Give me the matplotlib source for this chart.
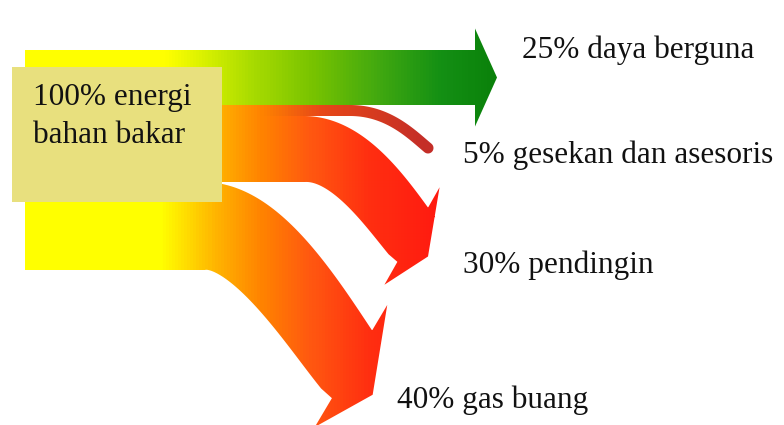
import numpy as np
import matplotlib
matplotlib.use("Agg")
import matplotlib.pyplot as plt
from matplotlib.patches import Polygon, Rectangle
from matplotlib.colors import LinearSegmentedColormap

# ---------------- data ----------------
source_lines = ["100% energi", "bahan bakar"]
flow_values = [25, 5, 30, 40]
flow_names = ["daya berguna", "gesekan dan asesoris", "pendingin", "gas buang"]

# ---------------- layout / style ----------------
W, H = 784, 425
x0 = 25                # left edge of source band
band_top = 50          # top of source band (px)
band_total = 220       # thickness of 100% (px)

# per-flow geometry: split x, arrow base, direction (deg), bezier handles, taper,
# head half-width, head length, barb-axis angle (deg), colormap key
flow_geom = [
    dict(xs=400, E=(475, None), ang=0, k1=25, k2=25, taper=1.0,
         hh=49, hl=22, barb=90, cmap="green"),
    dict(xs=350, E=(428, 148), ang=40, k1=38, k2=22, taper=1.0,
         hh=None, hl=0, barb=None, cmap="dark"),
    dict(xs=305, E=(412, 236), ang=52, k1=45, k2=40, taper=0.9,
         hh=56, hl=26, barb=119.5, cmap="red"),
    dict(xs=205, E=(351, 366), ang=53, k1=55, k2=55, taper=0.85,
         hh=71, hl=36, barb=120.7, cmap="red"),
]
label_pos = [(522, 58), (463, 163), (463, 273), (397, 408)]
src_text_pos = [(33, 105), (33, 143)]
box = (12, 67, 210, 135)
font = "Liberation Serif"
fs = 22.5


def cmap_from(stops):
    pts = [(0.0, stops[0][1])] + [(x / W, c) for x, c in stops] + [(1.0, stops[-1][1])]
    return LinearSegmentedColormap.from_list("c", pts)


cmaps = {
    "green": cmap_from([(165, "#FFFF00"), (200, "#DCF200"), (250, "#AADC00"),
                        (310, "#7AC400"), (380, "#40A810"), (440, "#149014"),
                        (500, "#0A800A")]),
    "red": cmap_from([(160, "#FFFF00"), (215, "#FFB400"), (260, "#FF8400"),
                      (310, "#FF5810"), (370, "#FF2E10"), (440, "#FF1A10")]),
    "dark": cmap_from([(160, "#FFFF00"), (215, "#FFB400"), (260, "#FF8400"),
                       (320, "#E84818"), (425, "#C42E28")]),
}


def ribbon(yc, w, g):
    d_end = np.array([np.cos(np.radians(g["ang"])), np.sin(np.radians(g["ang"]))])
    E = np.array([g["E"][0], yc if g["E"][1] is None else g["E"][1]], float)
    # straight part
    xh = np.linspace(x0, g["xs"], 40)
    P = [np.column_stack([xh, np.full_like(xh, yc)])]
    T = [np.tile([1.0, 0.0], (len(xh), 1))]
    Wd = [np.full(len(xh), w / 2)]
    # bezier part
    p0 = np.array([g["xs"], yc], float)
    p1 = p0 + np.array([g["k1"], 0.0])
    p2 = E - g["k2"] * d_end
    p3 = E
    t = np.linspace(0, 1, 80)[1:, None]
    b = ((1 - t) ** 3) * p0 + 3 * ((1 - t) ** 2) * t * p1 + 3 * (1 - t) * t ** 2 * p2 + t ** 3 * p3
    db = 3 * ((1 - t) ** 2) * (p1 - p0) + 6 * (1 - t) * t * (p2 - p1) + 3 * t ** 2 * (p3 - p2)
    db = db / np.linalg.norm(db, axis=1, keepdims=True)
    P.append(b)
    T.append(db)
    Wd.append(w / 2 * (1 + (g["taper"] - 1) * t[:, 0]))
    P = np.vstack(P); T = np.vstack(T); Wd = np.concatenate(Wd)
    N = np.column_stack([-T[:, 1], T[:, 0]])
    upper = P - N * Wd[:, None]
    lower = P + N * Wd[:, None]
    if g["hh"] is None:
        a0 = np.arctan2(-N[-1, 1], -N[-1, 0])
        ang = np.linspace(a0, a0 + np.pi, 15)
        cap = E + Wd[-1] * np.column_stack([np.cos(ang), np.sin(ang)])
        if np.dot(cap[7] - E, d_end) < 0:
            ang = np.linspace(a0, a0 - np.pi, 15)
            cap = E + Wd[-1] * np.column_stack([np.cos(ang), np.sin(ang)])
        head = cap
    else:
        bv = np.array([np.cos(np.radians(g["barb"])), np.sin(np.radians(g["barb"]))])
        head = np.array([E - bv * Wd[-1], E - bv * g["hh"], E + d_end * g["hl"],
                         E + bv * g["hh"], E + bv * Wd[-1]])
    return np.vstack([upper, head, lower[::-1]])


fig = plt.figure(figsize=(W / 100, H / 100), dpi=100)
ax = fig.add_axes([0, 0, 1, 1])
ax.set_xlim(0, W)
ax.set_ylim(H, 0)
ax.axis("off")

total = sum(flow_values)
grad = np.tile(np.linspace(0, 1, W), (2, 1))
top = band_top
for v, g in zip(flow_values, flow_geom):
    w = v / total * band_total
    yc = top + w / 2
    top += w
    pts = ribbon(yc, w, g)
    patch = Polygon(pts, closed=True, facecolor="none", edgecolor="none", zorder=2)
    ax.add_patch(patch)
    im = ax.imshow(grad, cmap=cmaps[g["cmap"]], extent=(0, W, H, 0),
                   aspect="auto", interpolation="bilinear", zorder=1)
    im.set_clip_path(patch)

# source box
bx, by, bw, bh = box
ax.add_patch(Rectangle((bx, by), bw, bh, facecolor="#E8E07E", edgecolor="none", zorder=3))
for (tx, ty), s in zip(src_text_pos, source_lines):
    ax.text(tx, ty, s, fontsize=fs, family=font, color="#111111",
            ha="left", va="baseline", zorder=4)

for (tx, ty), v, name in zip(label_pos, flow_values, flow_names):
    ax.text(tx, ty, f"{v}% {name}", fontsize=fs, family=font, color="#111111",
            ha="left", va="baseline", zorder=4)

ax.set_xlim(0, W)
ax.set_ylim(H, 0)
fig.savefig("out.png", dpi=100, facecolor="white")
